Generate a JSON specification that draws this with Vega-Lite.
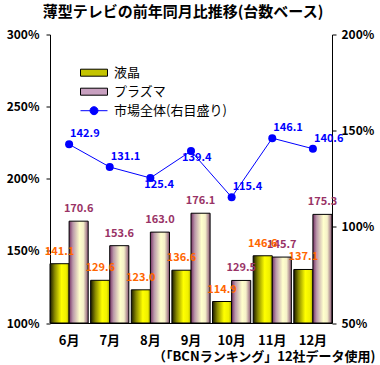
{
  "$schema": "https://vega.github.io/schema/vega-lite/v6.json",
  "autosize": {"type": "none"},
  "width": 282,
  "height": 288.5,
  "padding": {"left": 50, "top": 34.5, "right": 48, "bottom": 42},
  "background": "white",
  "config": {
    "view": {"stroke": null},
    "font": "Noto Sans CJK JP",
    "axis": {"grid": false, "domainColor": "#000000", "tickColor": "#000000", "labelColor": "#000000", "labelFont": "Noto Sans CJK JP", "labelFontWeight": "bold", "labelFontSize": 12}
  },
  "title": {"text": "薄型テレビの前年同月比推移(台数ベース)", "font": "Noto Sans CJK JP", "fontSize": 15, "fontWeight": "bold", "color": "#000000", "anchor": "middle", "dx": -8, "dy": 12, "baseline": "bottom", "offset": 6},
  "data": {"values": [
    {"month": "6月", "series": "液晶", "value": 141.1},
    {"month": "6月", "series": "プラズマ", "value": 170.6},
    {"month": "6月", "series": "市場全体(右目盛り)", "value": 142.9},
    {"month": "7月", "series": "液晶", "value": 129.6},
    {"month": "7月", "series": "プラズマ", "value": 153.6},
    {"month": "7月", "series": "市場全体(右目盛り)", "value": 131.1},
    {"month": "8月", "series": "液晶", "value": 123.0},
    {"month": "8月", "series": "プラズマ", "value": 163.0},
    {"month": "8月", "series": "市場全体(右目盛り)", "value": 125.4},
    {"month": "9月", "series": "液晶", "value": 136.6},
    {"month": "9月", "series": "プラズマ", "value": 176.1},
    {"month": "9月", "series": "市場全体(右目盛り)", "value": 139.4},
    {"month": "10月", "series": "液晶", "value": 114.9},
    {"month": "10月", "series": "プラズマ", "value": 129.5},
    {"month": "10月", "series": "市場全体(右目盛り)", "value": 115.4},
    {"month": "11月", "series": "液晶", "value": 146.6},
    {"month": "11月", "series": "プラズマ", "value": 145.7},
    {"month": "11月", "series": "市場全体(右目盛り)", "value": 146.1},
    {"month": "12月", "series": "液晶", "value": 137.1},
    {"month": "12月", "series": "プラズマ", "value": 175.3},
    {"month": "12月", "series": "市場全体(右目盛り)", "value": 140.6}
  ]},
  "encoding": {
    "x": {
      "field": "month", "type": "nominal",
      "scale": {"domain": ["6月", "7月", "8月", "9月", "10月", "11月", "12月"], "paddingInner": 0.06, "paddingOuter": 0},
      "axis": {"orient": "bottom", "labelAngle": 0, "ticks": false, "tickSize": 0, "labelPadding": 11, "labelFontSize": 13, "domainColor": "#000000",
        "title": "（「BCNランキング」12社データ使用)", "titleFont": "Noto Sans CJK JP", "titleFontSize": 13, "titleFontWeight": "bold", "titleColor": "#000000", "titleX": 325, "titleY": 33, "titleAlign": "right", "titleBaseline": "middle", "titleAnchor": "end"}
    }
  },
  "layer": [
    {
      "encoding": {
        "y": {"field": "value", "type": "quantitative", "scale": {"domain": [100, 300], "zero": false, "nice": false},
          "axis": {"orient": "left", "values": [100, 150, 200, 250, 300], "labelExpr": "datum.value + '%'", "title": null, "tickSize": 4, "labelPadding": 7}}
      },
      "layer": [
        {
          "transform": [{"filter": "datum.series === '液晶'"}],
          "mark": {"type": "bar", "stroke": "#000000", "strokeWidth": 1,
            "fill": {"gradient": "linear", "x1": 0, "y1": 0, "x2": 1, "y2": 0, "stops": [
              {"offset": 0, "color": "#1a1a00"}, {"offset": 0.25, "color": "#8a8a00"}, {"offset": 0.6, "color": "#ffff00"}, {"offset": 0.85, "color": "#f0f000"}, {"offset": 1, "color": "#a8a800"}]}},
          "encoding": {
            "xOffset": {"field": "series", "type": "nominal", "scale": {"domain": ["液晶", "プラズマ"]}},
            "y2": {"datum": 100}
          }
        },
        {
          "transform": [{"filter": "datum.series === 'プラズマ'"}],
          "mark": {"type": "bar", "stroke": "#000000", "strokeWidth": 1,
            "fill": {"gradient": "linear", "x1": 0, "y1": 0, "x2": 1, "y2": 0, "stops": [
              {"offset": 0, "color": "#773366"}, {"offset": 0.2, "color": "#bb99aa"}, {"offset": 0.55, "color": "#ffffcc"}, {"offset": 0.75, "color": "#f5f0c8"}, {"offset": 1, "color": "#885577"}]}},
          "encoding": {
            "xOffset": {"field": "series", "type": "nominal", "scale": {"domain": ["液晶", "プラズマ"]}},
            "y2": {"datum": 100}
          }
        },
        {
          "transform": [{"filter": "datum.series === 'プラズマ'"}],
          "mark": {"type": "text", "font": "Noto Sans CJK JP", "fontSize": 11, "fontWeight": "bold", "color": "#993366", "baseline": "middle", "dy": -12},
          "encoding": {
            "xOffset": {"field": "series", "type": "nominal", "scale": {"domain": ["液晶", "プラズマ"]}},
            "text": {"field": "value", "type": "quantitative", "format": ".1f"}
          }
        },
        {
          "transform": [{"filter": "datum.series === '液晶'"}],
          "mark": {"type": "text", "font": "Noto Sans CJK JP", "fontSize": 11, "fontWeight": "bold", "color": "#ff6600", "baseline": "middle", "dy": -12},
          "encoding": {
            "xOffset": {"field": "series", "type": "nominal", "scale": {"domain": ["液晶", "プラズマ"]}},
            "text": {"field": "value", "type": "quantitative", "format": ".1f"}
          }
        }
      ]
    },
    {
      "transform": [{"filter": "datum.series === '市場全体(右目盛り)'"}],
      "encoding": {
        "y": {"field": "value", "type": "quantitative", "scale": {"domain": [50, 200], "zero": false, "nice": false},
          "axis": {"orient": "right", "values": [50, 100, 150, 200], "labelExpr": "datum.value + '%'", "title": null, "tickSize": 4, "labelPadding": 5}}
      },
      "layer": [
        {
          "mark": {"type": "line", "strokeWidth": 1, "color": "#0000ff"},
          "encoding": {}
        },
        {
          "mark": {"type": "point", "filled": true, "size": 64, "opacity": 1},
          "encoding": {
            "color": {"field": "series", "type": "nominal",
              "scale": {"domain": ["液晶", "プラズマ", "市場全体(右目盛り)"], "range": ["#c4c400", "#c8a0c0", "#0000ff"]},
              "legend": {
                "orient": "none", "legendX": 37.5, "legendY": 31.7, "title": null, "padding": 0,
                "labelFont": "Noto Sans CJK JP", "labelFontSize": 13, "labelColor": "#000000", "labelFontWeight": "normal",
                "labelOffset": 13.5, "rowPadding": 5, "symbolSize": 100, "symbolOpacity": 1,
                "encode": {"symbols": {"update": {
                  "shape": {"signal": "datum.value === '市場全体(右目盛り)' ? 'M-2.7,0H2.7M-0.8,0A0.8,0.8 0 1 0 0.8,0A0.8,0.8 0 1 0 -0.8,0' : 'M-2.7,-0.7H2.7V0.7H-2.7Z'"},
                  "size": {"value": 100},
                  "stroke": {"signal": "datum.value === '市場全体(右目盛り)' ? '#0000ff' : '#000000'"},
                  "strokeWidth": {"value": 1},
                  "opacity": {"value": 1}
                }}}
              }
            }
          }
        },
        {
          "transform": [{"filter": "datum.month !== '8月' && datum.month !== '9月'"}],
          "mark": {"type": "text", "font": "Noto Sans CJK JP", "fontSize": 11, "fontWeight": "bold", "color": "#0000ff", "align": "left", "baseline": "middle", "dx": 1, "dy": -10},
          "encoding": {"text": {"field": "value", "type": "quantitative", "format": ".1f"}}
        },
        {
          "transform": [{"filter": "datum.month === '8月'"}],
          "mark": {"type": "text", "font": "Noto Sans CJK JP", "fontSize": 11, "fontWeight": "bold", "color": "#0000ff", "align": "left", "baseline": "middle", "dx": -6, "dy": 7},
          "encoding": {"text": {"field": "value", "type": "quantitative", "format": ".1f"}}
        },
        {
          "transform": [{"filter": "datum.month === '9月'"}],
          "mark": {"type": "text", "font": "Noto Sans CJK JP", "fontSize": 11, "fontWeight": "bold", "color": "#0000ff", "align": "left", "baseline": "middle", "dx": -9, "dy": 7},
          "encoding": {"text": {"field": "value", "type": "quantitative", "format": ".1f"}}
        }
      ]
    }
  ],
  "resolve": {"scale": {"y": "independent"}}
}
